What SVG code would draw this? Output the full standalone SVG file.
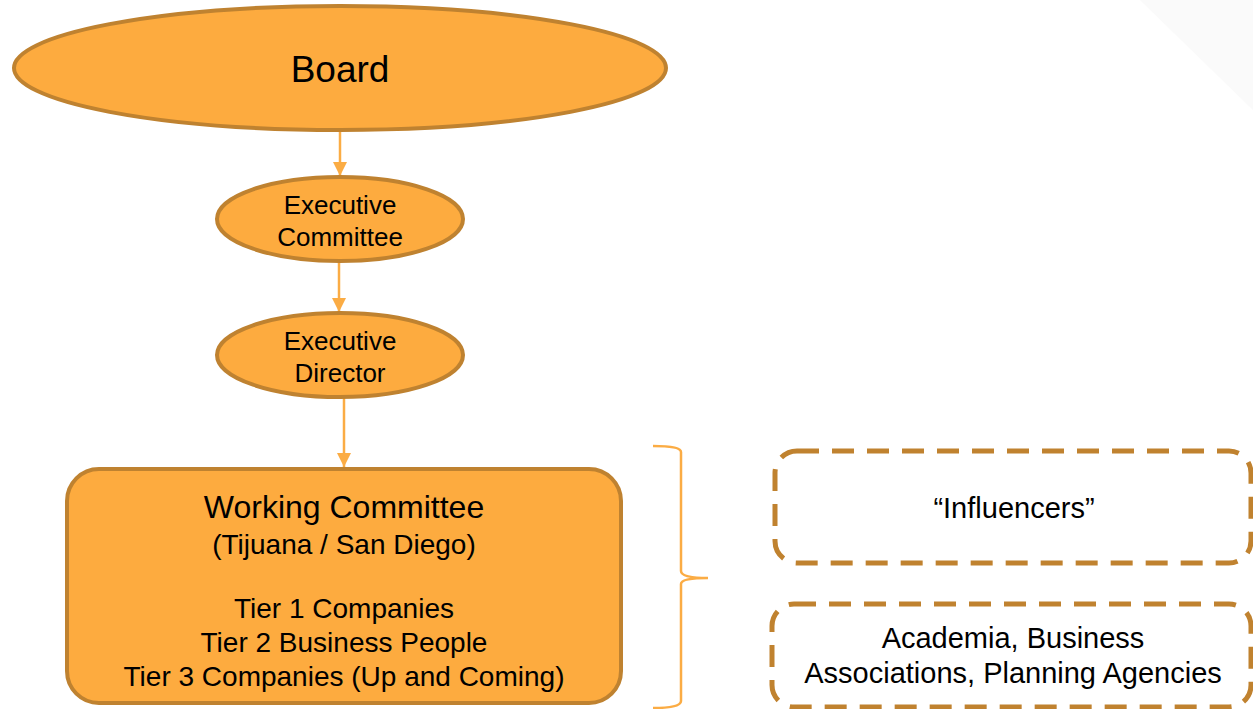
<svg xmlns="http://www.w3.org/2000/svg" width="1253" height="709" viewBox="0 0 1253 709">
<defs>
<style>
.node{fill:#fdab3f;stroke:#bf8230;stroke-width:4}
.conn{stroke:#fbac44;stroke-width:2.5;fill:none}
.dash{fill:#ffffff;stroke:#c0822f;stroke-width:5;stroke-dasharray:22 13}
text{font-family:"Liberation Sans",Arial,sans-serif;fill:#000;text-anchor:middle}
</style>
<marker id="arr" markerWidth="14" markerHeight="14" refX="14" refY="7" orient="auto" markerUnits="userSpaceOnUse" viewBox="0 0 14 14">
<path d="M0,0 L14,7 L0,14 Z" fill="#fbac44"/>
</marker>
</defs>
<rect width="1253" height="709" fill="#ffffff"/>
<polygon points="1140,0 1253,0 1253,110" fill="#fafafa"/>
<g id="connectors">
<line class="conn" x1="340" y1="131" x2="340" y2="176" marker-end="url(#arr)"/>
<line class="conn" x1="339" y1="262" x2="339" y2="312" marker-end="url(#arr)"/>
<line class="conn" x1="344" y1="398" x2="344" y2="467" marker-end="url(#arr)"/>
<path class="conn" d="M653,446 Q681,446 681,452 L681,571 Q681,578 708,578 Q681,578 681,584 L681,701 Q681,708 653,708"/>
</g>
<g id="board">
<ellipse class="node" cx="340" cy="68" rx="326" ry="62"/>
<text x="340" y="82" font-size="37">Board</text>
</g>
<g id="exec-committee">
<ellipse class="node" cx="340" cy="219" rx="123" ry="42"/>
<text x="340" y="214" font-size="26">Executive</text>
<text x="340" y="246" font-size="26">Committee</text>
</g>
<g id="exec-director">
<ellipse class="node" cx="340" cy="355" rx="123" ry="42"/>
<text x="340" y="350" font-size="26">Executive</text>
<text x="340" y="382" font-size="26">Director</text>
</g>
<g id="working-committee">
<rect class="node" x="67" y="469" width="554" height="234" rx="32"/>
<text x="344" y="518" font-size="32">Working Committee</text>
<text x="344" y="554" font-size="28">(Tijuana / San Diego)</text>
<text x="344" y="618" font-size="28">Tier 1 Companies</text>
<text x="344" y="652" font-size="28">Tier 2 Business People</text>
<text x="344" y="686" font-size="28">Tier 3 Companies (Up and Coming)</text>
</g>
<g id="influencers">
<rect class="dash" x="775" y="451" width="476" height="112" rx="22"/>
<text x="1014" y="518" font-size="29">“Influencers”</text>
</g>
<g id="academia">
<rect class="dash" x="772" y="604" width="479" height="103" rx="22"/>
<text x="1013" y="648" font-size="29">Academia, Business</text>
<text x="1013" y="683" font-size="29">Associations, Planning Agencies</text>
</g>
</svg>
